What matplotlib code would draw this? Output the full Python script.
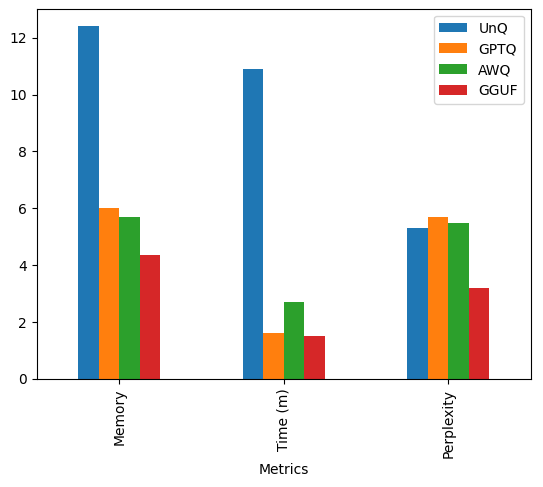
import matplotlib
matplotlib.use("Agg")
import matplotlib.pyplot as plt
import pandas as pd

metrics = ["Memory", "Time (m)", "Perplexity"]
unq = [12.4, 10.9, 5.3]
gptq = [6.0, 1.6, 5.7]
awq = [5.7, 2.7, 5.5]
gguf = [4.35, 1.5, 3.2]

df = pd.DataFrame({"UnQ": unq, "GPTQ": gptq, "AWQ": awq, "GGUF": gguf},
                  index=pd.Index(metrics, name="Metrics"))

fig = plt.figure(figsize=(5.43, 4.87), dpi=100)
ax = fig.add_subplot(111)
df.plot(kind="bar", ax=ax)
fig.subplots_adjust(left=0.068, right=0.977, top=0.982, bottom=0.222)
fig.savefig("out.png", dpi=100)
